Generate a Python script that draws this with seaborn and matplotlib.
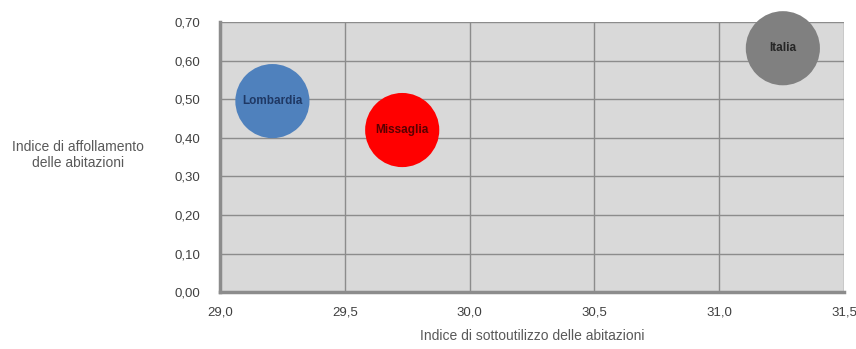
import matplotlib
matplotlib.use("Agg")
import matplotlib.pyplot as plt
import seaborn as sns
import pandas as pd

# Dati
territori = ["Lombardia", "Missaglia", "Italia"]
sottoutilizzo = [29.21, 29.73, 31.255]
affollamento = [0.495, 0.42, 0.632]
colori = ["#4f81bd", "#ff0000", "#808080"]
colori_testo = ["#1f3864", "#5a0000", "#262626"]

x_ticks = [29.0, 29.5, 30.0, 30.5, 31.0, 31.5]
y_ticks = [0.0, 0.1, 0.2, 0.3, 0.4, 0.5, 0.6, 0.7]

df = pd.DataFrame({"territorio": territori, "x": sottoutilizzo, "y": affollamento})

sns.set_style("white")
plt.rcParams["font.family"] = ["Liberation Sans", "DejaVu Sans"]

fig = plt.figure(figsize=(8.56, 3.49), dpi=100)
ax = fig.add_axes([0.257, 0.163, 0.729, 0.774])
ax.set_facecolor("#d9d9d9")

sns.scatterplot(
    data=df, x="x", y="y", hue="territorio",
    palette=dict(zip(territori, colori)),
    s=2850, edgecolor="none", legend=False, ax=ax, clip_on=False, zorder=3
)

# Etichette dentro le bolle
for nome, xv, yv, c in zip(territori, sottoutilizzo, affollamento, colori_testo):
    ax.text(xv, yv, nome, ha="center", va="center", fontsize=8.5,
            weight="bold", color=c, zorder=4)

ax.set_xlim(29.0, 31.5)
ax.set_ylim(0.0, 0.7)
ax.set_xticks(x_ticks)
ax.set_yticks(y_ticks)
ax.set_xticklabels([f"{v:.1f}".replace(".", ",") for v in x_ticks])
ax.set_yticklabels([f"{v:.2f}".replace(".", ",") for v in y_ticks])

ax.grid(True, color="#8c8c8c", linewidth=1.0, zorder=0)
ax.set_axisbelow(True)

for s in ["top", "right"]:
    ax.spines[s].set_visible(False)
for s in ["left", "bottom"]:
    ax.spines[s].set_color("#8c8c8c")
    ax.spines[s].set_linewidth(2.5)

ax.tick_params(axis="both", colors="#8c8c8c", length=4, width=1.2,
               labelcolor="#404040", labelsize=9.5, direction="out")
ax.tick_params(axis="x", pad=6)
ax.tick_params(axis="y", pad=10)

ax.set_xlabel("Indice di sottoutilizzo delle abitazioni", fontsize=10,
              color="#595959", labelpad=8)
ax.set_ylabel("")
fig.text(0.091, 0.555, "Indice di affollamento\ndelle abitazioni", ha="center",
         va="center", fontsize=10, color="#595959", linespacing=1.15)

fig.savefig("out.png", dpi=100)
